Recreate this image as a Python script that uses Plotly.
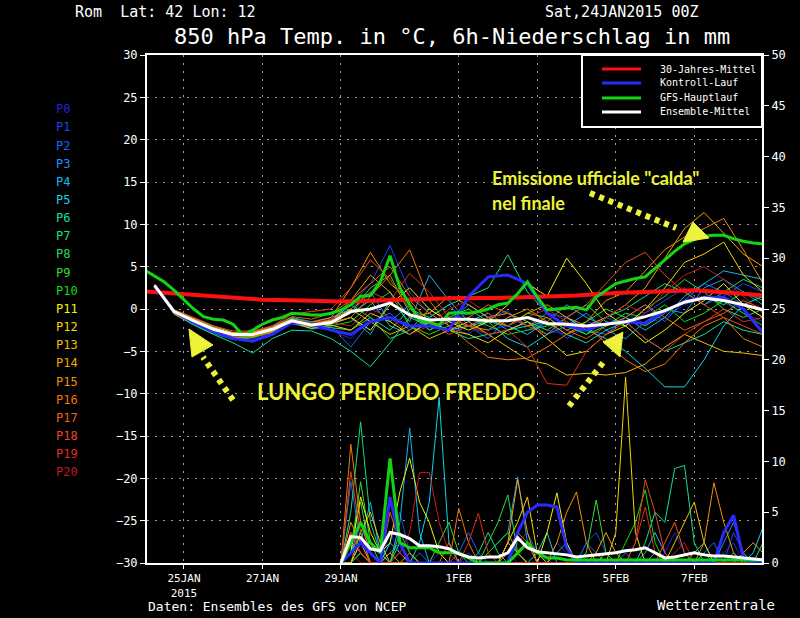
import plotly.graph_objects as go

FONT = "DejaVu Sans Mono"
YEL = "#eef23a"

# ---------------- time axes (hours since 24JAN2015 00Z) ----------------
temp_hours = list(range(6, 379, 12))      # members / control / mean, 12h
gfs_hours = list(range(0, 379, 6))        # GFS-Hauptlauf, 6h
prec_hours = list(range(120, 379, 6))     # 6h precipitation from 29JAN 00Z
clim_hours = list(range(0, 385, 24))

tick_hours = [24, 72, 120, 192, 240, 288, 336]
tick_labels = ["25JAN<br>2015", "27JAN", "29JAN", "1FEB", "3FEB", "5FEB", "7FEB"]

member_names = ["P%d" % i for i in range(21)]
member_colors = ["#2424d0", "#1a44ee", "#1666f6", "#1a94f4", "#16b4f0", "#10d4e4",
                 "#10e09a", "#14e07a", "#22dc50", "#34dc30", "#14dc14", "#f2f200",
                 "#f2d400", "#f2bc00", "#f2a400", "#f29000", "#f27800", "#f06010",
                 "#ee4420", "#e02c20", "#c41a1a"]

# ---------------- 850 hPa temperature (deg C) ----------------
p0_t = [2.6,-0.2,-1.6,-2.8,-3.4,-3.6,-2.8,-1.8,-2.2,-2.5, -3.5,-1.0,1.5,-0.5,-2.0,-1.5, -0.5,-2.5,-2.0,-1.0, -2.5,-3.0,-1.5,-2.0, -0.5,-1.8,-1.0,0.5, 1.5,0.8,-0.5,-1.5]
p1_t = [2.9,-0.4,-1.2,-2.2,-3.2,-3.4,-2.6,-1.2,-1.8,-1.2, 0.5,3.0,7.5,2.0,-0.5,-2.0, -3.0,-1.0,-0.2,-2.5, -1.5,-3.5,-2.0,-1.0, -2.0,-0.5,1.0,2.5, 0.5,1.5,3.0,2.0]
p2_t = [2.7,-0.1,-1.5,-2.6,-3.3,-3.2,-2.5,-1.5,-2.4,-2.0, -4.5,-1.5,-0.5,-2.5,-1.0,0.5, -2.0,-3.5,-1.0,-2.0, -0.5,-1.0,-2.5,-3.0, -1.0,0.5,-1.5,1.0, 3.0,2.0,0.5,-1.0]
p3_t = [2.8,-0.5,-1.7,-2.7,-3.5,-3.0,-2.0,-1.0,-1.5,-1.0, 0.0,2.0,-1.5,0.5,-2.5,-1.5, 0.5,-1.0,-2.5,-1.5, -3.0,-2.0,-0.5,-2.5, -3.5,-1.5,0.0,-0.5, 2.5,3.5,2.0,0.5]
p4_t = [2.5,-0.3,-1.3,-2.3,-2.9,-3.1,-2.7,-1.6,-2.0,-1.8, -1.0,-3.0,1.0,-1.5,4.0,1.0, -1.5,-0.5,-2.0,-3.0, -1.5,0.5,-1.0,-2.0, -1.0,-2.5,-1.0,1.5, 3.0,4.5,4.0,3.5]
p5_t = [2.6,-0.2,-1.5,-2.5,-3.0,-2.8,-2.2,-1.3,-1.7,-1.5, -0.5,1.0,-2.0,-3.0,-1.5,-2.5, -2.0,-1.5,-3.5,-4.5, -3.0,-1.0,-2.5,-3.5, -5.0,-7.0,-9.2,-9.2, -6.0,-2.0,0.5,1.5]
p6_t = [2.7,-0.6,-1.9,-3.0,-4.0,-5.2,-3.5,-2.5,-2.6,-3.5, -5.0,-6.8,-4.0,-1.0,-2.0,-2.5, -3.5,-3.0,-2.5,-2.0, -1.5,-3.0,-4.0,-2.5, -1.5,-3.5,-5.0,-4.0, -3.0,-1.5,-2.5,-3.0]
p7_t = [2.9,-0.1,-1.2,-2.1,-2.8,-2.9,-2.3,-1.1,-1.6,-1.4, 0.5,-1.0,-2.5,0.0,-1.0,0.5, 1.5,2.5,6.4,2.0, -0.5,-2.0,-3.0,-1.0, 0.0,1.5,3.0,2.0, 0.5,2.0,3.5,2.5]
p8_t = [2.5,-0.4,-1.6,-2.5,-3.1,-3.2,-2.6,-1.7,-2.1,-2.2, -2.5,-1.0,-3.5,-2.5,0.0,-1.5, -2.0,-1.0,-0.5,-1.5, -2.5,-1.0,0.5,-1.5, -2.0,0.0,1.5,3.5, 2.0,0.0,-1.0,0.0]
p9_t = [2.8,-0.3,-1.4,-2.4,-3.1,-3.3,-2.4,-1.5,-1.9,-1.5, -0.5,2.5,4.0,-0.5,-2.5,-1.0, 0.0,-1.5,-2.0,-0.5, -1.0,-2.5,-1.5,0.0, -1.0,-2.0,-0.5,1.0, 1.5,0.5,2.0,1.0]
p10_t = [2.6,-0.5,-1.8,-2.9,-3.6,-3.4,-2.7,-1.4,-1.5,-2.0, -1.5,0.5,2.0,-2.0,-3.0,-2.0, -1.0,-2.0,-3.0,-2.5, -2.0,-1.5,-3.0,-2.0, -0.5,-1.0,0.5,-1.5, -0.5,1.0,-0.5,-2.0]
p11_t = [2.7,-0.2,-1.3,-2.2,-3.0,-3.1,-2.5,-1.3,-1.9,-1.7, -1.0,-2.5,0.5,2.5,0.0,-1.5, -2.5,-1.5,0.5,3.0, 1.5,6.0,3.0,-0.5, -2.0,-4.0,-2.5,-0.5, 1.0,3.0,0.5,-1.0]
p12_t = [2.8,-0.4,-1.5,-2.6,-3.2,-2.9,-2.3,-1.6,-2.3,-1.9, -2.5,-0.5,-1.5,-3.0,-1.5,-2.5, -3.0,-4.0,-2.5,-1.5, -3.5,-5.5,-5.0,-3.0, -2.0,0.0,2.5,5.5, 6.5,7.9,4.0,2.0]
p13_t = [2.9,-0.1,-1.1,-2.0,-2.8,-2.7,-2.1,-1.2,-1.7,-1.3, 0.0,-1.5,-3.0,-2.0,-3.5,-2.5, -1.5,-3.0,-4.5,-6.0, -6.5,-7.8,-7.6,-7.8, -7.5,-6.5,-4.5,-3.0, -4.0,-5.0,-5.2,-5.5]
p14_t = [2.6,-0.3,-1.4,-2.5,-3.1,-3.0,-2.4,-1.3,-1.8,-1.4, 1.0,4.0,2.0,-1.0,-0.5,1.5, 0.5,-1.0,-2.0,-0.5, 0.5,-1.0,-2.0,-1.0, 0.5,2.5,6.0,9.5, 11.4,9.0,6.5,5.0]
p15_t = [2.7,-0.6,-1.7,-2.7,-3.4,-3.3,-2.6,-1.5,-1.6,-1.0, 2.5,6.7,3.0,1.0,-1.5,-1.0, -2.0,-2.5,-1.0,0.0, -1.5,-3.0,-1.5,1.0, 2.0,4.5,7.0,8.5, 9.5,10.7,7.0,3.0]
p16_t = [2.5,-0.2,-1.2,-2.3,-3.0,-3.2,-2.8,-1.6,-2.0,-1.6, -1.0,1.5,4.0,7.0,1.0,-2.0, -4.0,-5.7,-6.0,-5.8, -4.5,-3.0,-2.0,-4.0, -6.0,-7.4,-6.5,-4.0, -2.0,-1.0,-3.5,-4.5]
p17_t = [2.8,-0.3,-1.5,-2.4,-2.9,-2.8,-2.1,-0.9,-1.2,-0.5, 1.0,3.0,5.0,1.5,-0.5,-2.0, -1.0,0.5,-0.5,-2.0, -1.0,-2.5,-3.5,-2.0, -1.0,0.5,-1.0,-2.5, -1.5,-0.5,1.0,0.0]
p18_t = [2.9,-0.1,-1.0,-2.0,-2.6,-2.6,-2.0,-0.6,-0.3,0.0, 2.5,5.8,3.5,0.0,-1.5,-3.0, -2.0,-1.0,-0.5,-2.0, -3.0,-1.0,0.5,3.0, 5.5,6.7,4.0,2.0, 0.5,-1.0,-2.0,-3.0]
p19_t = [2.6,-0.4,-1.6,-2.6,-3.2,-3.1,-2.3,-1.4,-1.7,-1.2, -0.5,2.0,1.0,4.2,2.0,-1.0, -2.0,-3.0,-2.5,-4.5, -8.8,-9.0,-5.0,-3.0, -1.5,-3.5,-5.0,-3.0, -1.5,0.0,-1.5,-1.0]
p20_t = [2.7,-0.2,-1.4,-2.5,-3.1,-3.0,-2.5,-1.3,-1.6,-1.6, -2.0,0.0,-1.0,-3.0,-2.0,0.0, 1.0,-0.5,-2.0,-1.0, 0.0,-1.5,-2.5,-1.0, 0.5,-0.5,2.0,4.0, 5.0,3.5,1.5,-0.5]

control_t = [2.7,-0.3,-1.6,-2.7,-3.5,-3.8,-3.0,-1.6,-1.8,-2.5, -3.0,-1.5,-1.0,-2.0,-2.0,-2.5, 1.5,3.8,4.0,3.0, -0.5,-2.0,-2.5,-1.7, -1.5,-1.7,-0.3,0.9, 1.4,1.4,0.0,-2.8]
mean_t = [2.8,-0.3,-1.4,-2.4,-3.0,-3.0,-2.4,-1.4,-1.9,-1.6, -0.3,0.0,0.7,-0.7,-1.3,-1.2, -1.2,-1.4,-1.4,-1.0, -1.7,-1.8,-2.0,-1.8, -1.5,-0.9,-0.2,0.8, 1.3,1.0,0.5,-0.1]
gfs_t = [4.6,3.9,3.2,2.2,1.1,0.0,-0.9,-1.2,-1.3,-1.8,
         -3.1,-2.5,-1.8,-1.3,-1.0,-0.5,-0.6,-0.7,-0.7,-0.5,
         -0.1,0.5,1.5,1.6,3.2,6.3,2.5,0.5,-1.3,-1.6,
         -1.9,-0.5,-0.4,-0.5,-0.3,0.0,0.5,0.7,1.8,3.2,
         1.4,-0.1,0.0,0.1,0.2,-0.1,1.4,2.2,3.0,3.3,
         3.6,3.8,4.8,5.9,6.8,7.7,8.2,8.6,8.7,8.7,
         8.3,8.0,7.8,7.7]
clim_t = [2.1,1.8,1.4,1.1,1.0,0.9,1.0,1.2,1.3,1.3,1.4,1.6,1.9,2.1,2.2,1.9,1.5]

# ---------------- 6h precipitation (mm) ----------------
p0_p = [0,2,1,0,0,3,1,0,0,0, 1,0,0,0,0,0,0,1,0,0, 0,0,2,1,0,0,0,0,0,0, 0,0,0,1,3,1,0,0,0,1, 2,0,0,0]
p1_p = [0,1,3,1,0,2,5,1,0,0, 0,0,0,1,0,0,0,0,2,3, 1,0,0,0,0,2,3,1,0,0, 0,0,0,0,0,0,0,0,0,0, 3,1,0,0]
p2_p = [0,8,2,0,0,1,2,0,1,0, 0,0,1,3,1,0,0,0,0,0, 0,0,0,0,0,2,1,0,0,1, 0,0,0,0,0,0,0,1,2,0, 0,0,0,0]
p3_p = [0,1,4,1,0,0,1,0,0,0, 0,0,0,0,0,1,2,3,8.5,2, 0,0,0,0,0,0,0,0,0,0, 0,0,1,0,0,0,0,0,0,2, 4,1,0,0]
p4_p = [0,0,2,6,1,0,4,13.3,3,0, 0,0,0,0,0,0,0,0,0,0, 0,0,1,2,0,0,0,0,0,0, 0,1,3,1,0,0,0,0,0,0, 1,0,0,0]
p5_p = [0,0,1,0,0,2,1,0,2,6, 16.3,2,0,0,0,0,0,0,0,0, 1,3,0,0,0,0,0,0,0,0, 0,0,0,0,0,0,0,0,0,0, 0,0,1,3.5]
p6_p = [0,1,3,0,0,0,0,0,0,0, 0,0,0,0,0,0,0,0,0,0, 0,0,0,0,0,0,0,0,0,0, 0,2,5,4,9.3,9.6,2,0,0,0, 0,0,0,2]
p7_p = [0,5,13.9,4,1,0,2,0,0,0, 0,0,0,0,1,3,1,0,0,0, 0,0,0,0,0,0,0,1,0,0, 0,0,0,0,0,0,1,2,0,0, 0,0,0,0]
p8_p = [0,2,6,1,0,0,1,0,0,0, 0,0,0,0,0,2,4,6.7,1,0, 0,0,0,0,0,0,0,0,0,0, 0,0,0,0,0,0,0,1,0,0, 0,0,0,0]
p9_p = [0,1,8,2,0,0,3,1,0,0, 2,4,1,0,0,0,0,0,0,0, 0,0,0,0,0,1,6.2,1,0,0, 0,0,0,0,0,0,0,0,0,0, 0,0,0,0]
p10_p = [0,0,1,0,0,1,0,0,0,0, 0,0,0,0,0,1,2,3,1,0, 0,0,0,0,0,0,0,0,0,2, 4,7.2,2,0,0,0,0,0,0,0, 0,0,0,0]
p11_p = [0,1,6.5,3,1,2,7,10.3,6,4, 1,0,0,0,0,0,0,0,0,0, 0,3,6.9,2,0,0,0,0,0,0, 0,0,0,0,0,0,0,0,0,0, 0,0,0,0]
p12_p = [0,0,2,1,0,0,0,0,0,0, 0,0,0,0,0,0,0,2,4,6.5, 1,0,0,0,0,0,0,0,3,18.3, 3,0,0,0,0,0,0,0,0,0, 0,0,0,0]
p13_p = [0,0,3,5,2,0,0,0,0,0, 0,0,0,0,0,0,0,2,1,0, 0,0,0,0,0,0,0,0,0,0, 0,0,0,0,2,4,6,2,0,0, 0,0,0,0]
p14_p = [0,3,1,0,0,0,0,1,0,0, 0,0,0,0,0,0,0,2,8.2,3, 0,0,0,0,0,0,1,3,1,0, 0,0,0,0,0,0,0,0,0,0, 0,1,2,1]
p15_p = [0,4,2,0,0,1,0,0,0,0, 0,0,0,0,0,0,0,0,0,0, 0,0,2,5,7,2,0,0,0,0, 0,0,0,0,0,0,0,2,7.9,4, 1,0,0,0]
p16_p = [0,11.7,4,1,0,0,0,0,0,0, 0,0,5.4,2,0,0,0,0,0,0, 0,0,0,0,0,0,0,0,0,0, 0,0,0,0,0,0,0,0,0,0, 0,0,0,0]
p17_p = [0,2,1,0,0,5,2,0,0,0, 0,2,0,0,0,0,0,1,3,2, 0,0,0,0,0,0,1,0,0,0, 0,0,0,2,4,1,0,0,0,0, 0,0,0,0]
p18_p = [0,9,3,0,0,0,1,0,0,0, 0,0,0,0,0,0,0,0,0,0, 0,0,0,0,0,0,0,0,0,0, 2,8.2,5,1,0,0,0,0,0,0, 0,0,0,0]
p19_p = [0,3,1,0,0,0,0,0,0,0, 0,0,0,2,4.9,1,0,0,0,0, 0,0,0,0,0,0,0,0,0,0, 2,5.5,1,0,0,0,0,0,0,0, 0,0,0,0]
p20_p = [0,1,0,0,0,0,1,3,8.9,8.9, 4,1,0,0,0,0,0,0,0,0, 0,0,0,0,0,0,0,0,0,0, 0,0,0,0,1,2,0,0,0,0, 0,0,0,0]

control_p = [0,1,2,1,0,6.5,2,0,0,0, 0,0,0,0,0,0,0,0,3,5, 5.7,5.7,5.5,1.5,0,0,0,0,0,0, 0,0,0,0,0,0,0,0,0,3, 4.7,0.5,0,0]
gfs_p = [0,2,4,2,1,10.3,2,1.5,1.5,1.5, 1,1,1,0.5,0,0,0,0,1,2, 1,0.5,0.5,0.3,0.3,0.3,0.3,0.3,0.3,0.3, 0.3,0.3,0.3,0.3,0.3,0.3,0.3,0.3,0.3,0.3, 0.3,0.3,0.3,0.3]
mean_p = [0,2.6,2.5,1.4,1.2,3.0,2.8,2.4,1.7,1.7, 1.6,1.4,0.9,0.6,0.5,0.6,0.6,1.0,2.5,1.5, 1.1,1.0,0.9,0.8,0.6,0.7,0.8,0.9,1.0,1.2, 1.3,1.5,1.0,0.5,0.6,0.8,1.0,0.8,0.7,0.7, 0.6,0.5,0.4,0.3]

member_temps = [p0_t, p1_t, p2_t, p3_t, p4_t, p5_t, p6_t, p7_t, p8_t, p9_t, p10_t,
                p11_t, p12_t, p13_t, p14_t, p15_t, p16_t, p17_t, p18_t, p19_t, p20_t]
member_precs = [p0_p, p1_p, p2_p, p3_p, p4_p, p5_p, p6_p, p7_p, p8_p, p9_p, p10_p,
                p11_p, p12_p, p13_p, p14_p, p15_p, p16_p, p17_p, p18_p, p19_p, p20_p]

legend_names = ["30-Jahres-Mittel", "Kontroll-Lauf", "GFS-Hauptlauf", "Ensemble-Mittel"]
legend_colors = ["#ff1010", "#2a2aff", "#12d412", "#ffffff"]

fig = go.Figure()

def line(x, y, color, width, axis="y"):
    fig.add_trace(go.Scatter(x=x, y=y, mode="lines", yaxis=axis,
                             line=dict(color=color, width=width),
                             hoverinfo="skip", showlegend=False))

# precipitation (right axis)
for col, vals in zip(member_colors, member_precs):
    line(prec_hours, vals, col, 1, "y2")
line(prec_hours, control_p, legend_colors[1], 3, "y2")
line(prec_hours, gfs_p, legend_colors[2], 3, "y2")
line(prec_hours, mean_p, legend_colors[3], 3, "y2")

# temperature (left axis)
for col, vals in zip(member_colors, member_temps):
    line(temp_hours, vals, col, 1)
line(clim_hours, clim_t, legend_colors[0], 4)
line(temp_hours, control_t, legend_colors[1], 3)
line(gfs_hours, gfs_t, legend_colors[2], 3)
line(temp_hours, mean_t, legend_colors[3], 3)

tickfont = dict(family=FONT, size=12, color="white")
grid = dict(showgrid=True, gridcolor="#a0a0a0", gridwidth=1, griddash="2px,6px")

fig.update_layout(
    width=800, height=618,
    paper_bgcolor="black", plot_bgcolor="black",
    margin=dict(l=147, r=38, t=55, b=55),
    showlegend=False,
    xaxis=dict(range=[1.4, 377.4], tickmode="array", tickvals=tick_hours, ticktext=tick_labels,
               showline=True, linecolor="white", linewidth=2, mirror=True,
               ticks="outside", ticklen=4, tickcolor="white", zeroline=False,
               tickfont=dict(family=FONT, size=11, color="white"), **grid),
    yaxis=dict(range=[-30, 30], tick0=0, dtick=5, showline=True, linecolor="white", linewidth=2,
               ticks="outside", ticklen=5, tickcolor="white", zeroline=False,
               tickfont=tickfont, **grid),
    yaxis2=dict(range=[0, 50], tick0=0, dtick=5, overlaying="y", side="right",
                showline=True, linecolor="white", linewidth=2, ticks="outside", ticklen=5,
                tickcolor="white", zeroline=False, showgrid=False, tickfont=tickfont),
)

ann = []
def text(x, y, s, size, color="white", xanchor="left", family=FONT, xref="paper", yref="paper"):
    ann.append(dict(x=x, y=y, xref=xref, yref=yref, text=s, showarrow=False, xanchor=xanchor,
                    yanchor="middle", font=dict(family=family, size=size, color=color)))

# header / footer
text(-0.1203, 1.0846, "Rom  Lat: 42 Lon: 12", 15)
text(0.6439, 1.0846, "Sat,24JAN2015 00Z", 15)
text(0.4967, 1.0374, "850 hPa Temp. in \u00b0C, 6h-Niederschlag in mm", 22, xanchor="center")
text(-0.0016, -0.0866, "Daten: Ensembles des GFS von NCEP", 13)
text(0.826, -0.0827, "Wetterzentrale", 14)

# member labels on the left
for i, (nm, col) in enumerate(zip(member_names, member_colors)):
    text(-0.1512, (563 - (109.3 + 18.15 * i)) / 508, nm, 12, color=col)

# legend box
shapes = [dict(type="rect", xref="paper", yref="paper", x0=0.7073, x1=1.0, y0=0.8583, y1=1.0,
               line=dict(color="white", width=2), fillcolor="black", layer="above")]
rows = [0.9724, 0.9449, 0.9154, 0.8878]
for nm, col, yy in zip(legend_names, legend_colors, rows):
    shapes.append(dict(type="line", xref="paper", yref="paper", x0=0.7398, x1=0.8033, y0=yy, y1=yy,
                       line=dict(color=col, width=3), layer="above"))
    text(0.8309, yy, nm, 10)

# yellow commentary
BOLD = "Lato"
text(211.1, 15.47, "<b>Emissione ufficiale \"calda\"</b>", 18, color=YEL, family=BOLD, xref="x", yref="y")
text(211.1, 12.52, "<b>nel finale</b>", 18, color=YEL, family=BOLD, xref="x", yref="y")
text(67.35, -9.80, "<b>LUNGO PERIODO FREDDO</b>", 22, color=YEL, family=BOLD, xref="x", yref="y")

dots = [((53.96, -10.75), (35.62, -5.67)),
        ((259.4, -11.46), (281.5, -6.02)),
        ((272.2, 13.70), (324.8, 9.57))]
for (xa, ya), (xb, yb) in dots:
    shapes.append(dict(type="line", xref="x", yref="y", x0=xa, y0=ya, x1=xb, y1=yb,
                       line=dict(color=YEL, width=6, dash="5px,5px"), layer="above"))
tris = ["M 27.06,-2.36 L 28.89,-5.67 L 41.74,-4.25 Z",
        "M 280.2,-3.90 L 292.4,-2.72 L 290.6,-5.67 Z",
        "M 329.1,7.91 L 335.2,10.28 L 345.0,8.39 Z"]
for p in tris:
    shapes.append(dict(type="path", xref="x", yref="y", path=p, fillcolor=YEL,
                       line=dict(color=YEL, width=1), layer="above"))

fig.update_layout(annotations=ann, shapes=shapes)
fig.write_html("out.html", config={"displayModeBar": False},
               post_script="document.body.style.margin='0';document.body.style.background='black';")
